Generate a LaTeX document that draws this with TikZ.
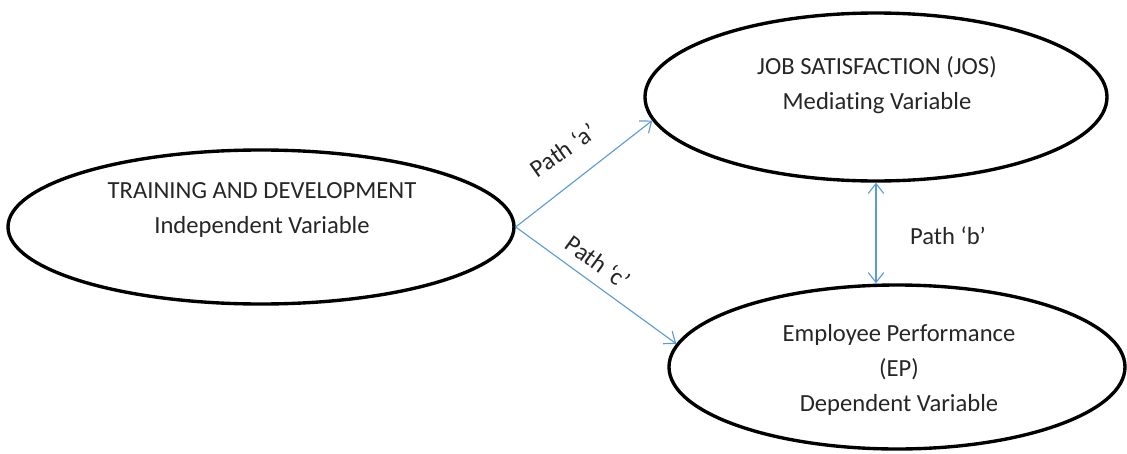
\documentclass[tikz,border=0pt]{standalone}
\usepackage{fontspec}
\setmainfont{Carlito}[Ligatures={NoCommon}]
\usetikzlibrary{shapes.geometric,arrows.meta}

\begin{document}
\begin{tikzpicture}[x=0.025cm, y=-0.025cm,
    var/.style={ellipse, draw=black, line width=2.4pt, inner sep=0pt},
    vartext/.style={align=center, font=\fontsize{17.5}{25}\selectfont, text=black!85},
    link/.style={draw={rgb,255:red,91;green,155;blue,213}, line width=0.8pt,
        -{Straight Barb[length=7pt,width=11pt]}},
    linklabel/.style={font=\fontsize{17.5}{20}\selectfont, text=black!85}]
\useasboundingbox (0,0) rectangle (1127,454);

% Ellipses
\node[var, minimum width=506*0.025cm, minimum height=154*0.025cm] (tad) at (261,227) {};
\node[var, minimum width=462*0.025cm, minimum height=168*0.025cm] (jos) at (876,97) {};
\node[var, minimum width=456*0.025cm, minimum height=164*0.025cm] (ep) at (897,367) {};

% Texts
\node[vartext] (tadtext) at (262,210) {TRAINING AND DEVELOPMENT\\Independent Variable};
\node[vartext] (jostext) at (877,85) {JOB SATISFACTION (JOS)\\Mediating Variable};
\node[vartext] (eptext) at (899,370) {Employee Performance\\(EP)\\Dependent Variable};

% Paths
\draw[link] (tad.east) -- (jos.186);
\draw[link] (tad.east) -- (ep.174);
\draw[link, {Straight Barb[length=7pt,width=11pt]}-{Straight Barb[length=7pt,width=11pt]}]
    (jos.south) -- (jos.south |- ep.north);

% Path labels
\node[linklabel, rotate=35] (pa) at (563,150) {Path ‘a’};
\node[linklabel, rotate=-36] (pc) at (598,262) {Path ‘c’};
\node[linklabel] (pb) at (948,236) {Path ‘b’};

\end{tikzpicture}
\end{document}
